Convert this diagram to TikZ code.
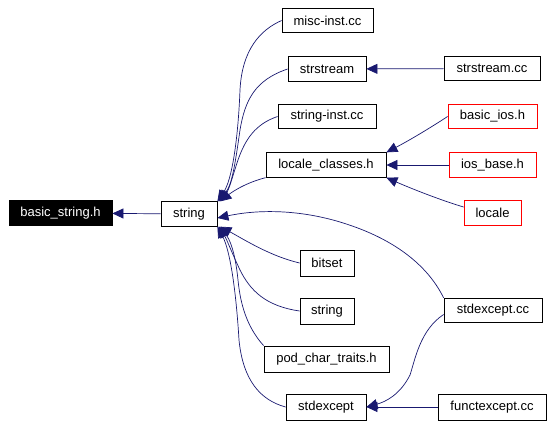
\documentclass[tikz,border=0pt]{standalone}
\usepackage{fontspec}
\setmainfont{Liberation Sans}
\usetikzlibrary{arrows.meta}
\tikzset{
  file/.style={draw=black,line width=0.8pt,inner sep=0pt,minimum height=24.5pt,
    font=\fontsize{13}{15}\selectfont},
  missing/.style={file,draw=red},
  current/.style={file,fill=black,text=white},
  dep/.style={draw=midnightblue,line width=0.7pt,
    -{Triangle[length=11pt,width=10pt]}},
}
\definecolor{midnightblue}{HTML}{191970}
\begin{document}
\begin{tikzpicture}[x=1pt,y=-1pt]
  \useasboundingbox (0,0) rectangle (554,426);
  \draw
    (60.5,213) node[current,minimum width=103pt] (basicstring){basic\_string.h}
    (189,214) node[file,minimum width=56pt] (string){string}
    (327.5,20.5) node[file,minimum width=91pt] (miscinst){misc-inst.cc}
    (327,69) node[file,minimum width=78pt] (strstream){strstream}
    (327,116.5) node[file,minimum width=98pt] (stringinst){string-inst.cc}
    (326,165) node[file,minimum width=120pt] (localeclasses){locale\_classes.h}
    (492,68.5) node[file,minimum width=96pt] (strstreamcc){strstream.cc}
    (492.5,116.5) node[missing,minimum width=89pt] (basicios){basic\_ios.h}
    (492.5,165) node[missing,minimum width=87pt] (iosbase){ios\_base.h}
    (492.5,213) node[missing,minimum width=57pt] (locale){locale}
    (327,263) node[file,minimum width=54pt,minimum height=26pt] (bitset){bitset}
    (327,311) node[file,minimum width=54pt,minimum height=26pt] (string2){string}
    (326.5,359) node[file,minimum width=125pt,minimum height=26pt] (podchar){pod\_char\_traits.h}
    (326,407) node[file,minimum width=80pt,minimum height=26pt] (stdexcept){stdexcept}
    (493,310.5) node[file,minimum width=98pt] (stdexceptcc){stdexcept.cc}
    (492,407) node[file,minimum width=108pt,minimum height=26pt] (functexcept){functexcept.cc};
  \begin{scope}[dep]
    \draw (string) to (basicstring);
    \draw (miscinst.west) .. controls (260,30) and (242,50) .. (240,90)
      .. controls (238,140) and (232,180) .. (string.north east);
    \draw (strstream.west) .. controls (255,80) and (245,100) .. (240,130)
      .. controls (235,165) and (232,185) .. ([xshift=1pt]string.north east);
    \draw (stringinst.west) .. controls (255,124) and (245,140) .. (238,160)
      .. controls (232,178) and (229,190) .. ([xshift=2pt]string.north east);
    \draw (localeclasses.south west) .. controls (245,183) and (232,192) .. ([xshift=3pt]string.north east);
    \draw (stdexceptcc.north west) .. controls (430,270) and (400,240) .. (340,222)
      .. controls (300,210) and (260,209) .. ([yshift=-4pt]string.east);
    \draw (bitset.west) .. controls (270,256) and (245,240) .. ([xshift=3pt]string.south east);
    \draw (string2.west) .. controls (265,306) and (250,290) .. (240,270)
      .. controls (232,253) and (227,240) .. ([xshift=2pt]string.south east);
    \draw (podchar.north west) .. controls (245,325) and (240,300) .. (238,280)
      .. controls (235,250) and (229,238) .. ([xshift=1pt]string.south east);
    \draw (stdexcept.west) .. controls (260,400) and (243,380) .. (239,340)
      .. controls (236,290) and (230,250) .. (string.south east);
    \draw (strstreamcc) to (strstream);
    \draw (basicios.west) .. controls (430,128) and (410,140) .. (localeclasses.north east);
    \draw (iosbase) to (localeclasses);
    \draw ([yshift=6pt]locale.west) .. controls (440,200) and (410,188) .. (localeclasses.south east);
    \draw ([yshift=-4pt]stdexceptcc.west) .. controls (420,330) and (415,360) .. (410,375)
      .. controls (400,395) and (385,402) .. (stdexcept.east);
    \draw (functexcept) to (stdexcept);
  \end{scope}
\end{tikzpicture}
\end{document}
